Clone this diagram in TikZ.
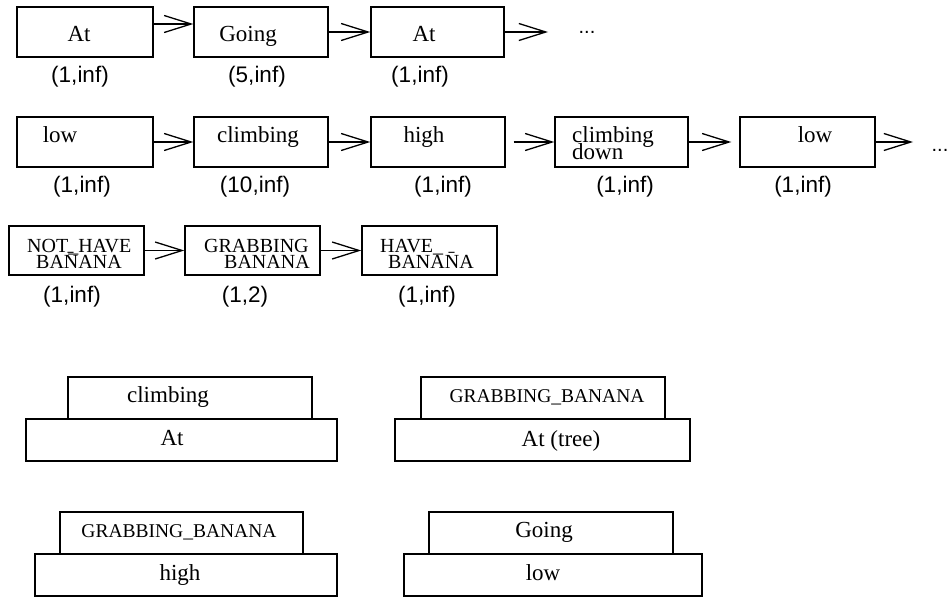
\documentclass[tikz,border=0pt]{standalone}
\usepackage{fontspec}
\setmainfont{Liberation Serif}
\setsansfont{Liberation Sans}
\usetikzlibrary{arrows.meta}
\begin{document}
\begin{tikzpicture}[x=1pt,y=-1pt,
  box/.style={draw, line width=1.4pt, inner sep=0pt, minimum height=50pt},
  sbox/.style={draw, line width=1.4pt, inner sep=0pt, minimum height=42pt},
  arr/.style={line width=1.3pt, -{Straight Barb[length=27pt,width=17pt,line width=1.3pt]}},
  lab/.style={font=\fontsize{22.5}{24}\sffamily, inner sep=0pt},
  txt/.style={font=\fontsize{23}{24}\selectfont, inner sep=0pt, anchor=base},
  txtl/.style={font=\fontsize{23}{24}\selectfont, inner sep=0pt, anchor=base west},
  small/.style={font=\fontsize{20}{21}\selectfont, inner sep=0pt, anchor=base west},
  gb/.style={font=\fontsize{19.5}{21}\selectfont, inner sep=0pt, anchor=base},
  dots/.style={font=\fontsize{20}{21}\sffamily, inner sep=0pt, anchor=base}]
\useasboundingbox (0,0) rectangle (950,597);

% ---------- row 1 ----------
\node[box, minimum width=136pt] (b11) at (85,32) {};
\node[box, minimum width=134pt] (b12) at (261,32) {};
\node[box, minimum width=133pt] (b13) at (437.5,32) {};
\node[txt] (t11) at (79,41) {At};
\node[txt] (t12) at (248,41) {Going};
\node[txt] (t13) at (424,41) {At};
\node[lab] (l11) at (80,77) {(1,inf)};
\node[lab] (l12) at (257,77) {(5,inf)};
\node[lab] (l13) at (420,77) {(1,inf)};
\coordinate (e13) at (548,32);
\node[dots] (d1) at (587,33) {...};
\draw[arr] ([yshift=8pt]b11.east) -- ([yshift=8pt]b12.west);
\draw[arr] (b12.east) -- (b13.west);
\draw[arr] (b13.east) -- (e13);

% ---------- row 2 ----------
\node[box, minimum width=136pt] (b21) at (85,142) {};
\node[box, minimum width=134pt] (b22) at (261,142) {};
\node[box, minimum width=134pt] (b23) at (438,142) {};
\node[box, minimum width=133pt] (b24) at (621.5,142) {};
\node[box, minimum width=135pt] (b25) at (807.5,142) {};
\node[txt] (t21) at (60,142) {low};
\node[txt] (t22) at (258,142) {climbing};
\node[txt] (t23) at (424,142) {high};
\node[txtl] (t24a) at (572,142) {climbing};
\node[txtl] (t24b) at (572,159) {down};
\node[txt] (t25) at (815,142) {low};
\node[lab] (l21) at (82,187) {(1,inf)};
\node[lab] (l22) at (255,187) {(10,inf)};
\node[lab] (l23) at (443,187) {(1,inf)};
\node[lab] (l24) at (625,187) {(1,inf)};
\node[lab] (l25) at (803,187) {(1,inf)};
\coordinate (e25) at (913,142);
\node[dots] (d2) at (940,151) {...};
\draw[arr] (b21.east) -- (b22.west);
\draw[arr] (b22.east) -- (b23.west);
\draw[arr, shorten <=8pt] (b23.east) -- (b24.west);
\draw[arr, shorten >=8pt] (b24.east) -- (b25.west);
\draw[arr] (b25.east) -- (e25);

% ---------- row 3 ----------
\node[box, minimum width=135pt, minimum height=49pt] (b31) at (76.5,250.5) {};
\node[box, minimum width=135pt, minimum height=49pt] (b32) at (252.5,250.5) {};
\node[box, minimum width=135pt, minimum height=49pt] (b33) at (429.5,250.5) {};
\node[small] (t31a) at (27,252) {NOT\_HAVE};
\node[small] (t31b) at (36,268) {BA\={N}ANA};
\node[small] (t32a) at (204,252) {GRABBING};
\node[small] (t32b) at (224,268) {BANANA};
\node[small] (t33a) at (380,252) {HAVE\_};
\node[small] (t33b) at (388,268) {BANA\={N}A};
\node[lab] (l31) at (72,297) {(1,inf)};
\node[lab] (l32) at (245,297) {(1,2)};
\node[lab] (l33) at (427,297) {(1,inf)};
\draw[arr] (b31.east) -- (b32.west);
\draw[arr] (b32.east) -- (b33.west);

% ---------- stacked groups ----------
\node[sbox, minimum width=244pt] (g1t) at (190,398) {};
\node[sbox, minimum width=311pt] (g1b) at (181.5,440) {};
\node[txt] (g1tt) at (168,402) {climbing};
\node[txt] (g1bt) at (172,445) {At};

\node[sbox, minimum width=244pt] (g2t) at (543,398) {};
\node[sbox, minimum width=295pt] (g2b) at (542.5,440) {};
\node[gb] (g2tt) at (547,402) {GRABBING\_BANANA};
\node[txt] (g2bt) at (561,446) {At (tree)};

\node[sbox, minimum width=243pt] (g3t) at (181.5,533) {};
\node[sbox, minimum width=302pt] (g3b) at (186,575) {};
\node[gb] (g3tt) at (179,537) {GRABBING\_BANANA};
\node[txt] (g3bt) at (180,580) {high};

\node[sbox, minimum width=244pt] (g4t) at (551,533) {};
\node[sbox, minimum width=298pt] (g4b) at (553,575) {};
\node[txt] (g4tt) at (544,537) {Going};
\node[txt] (g4bt) at (543,580) {low};
\end{tikzpicture}
\end{document}
